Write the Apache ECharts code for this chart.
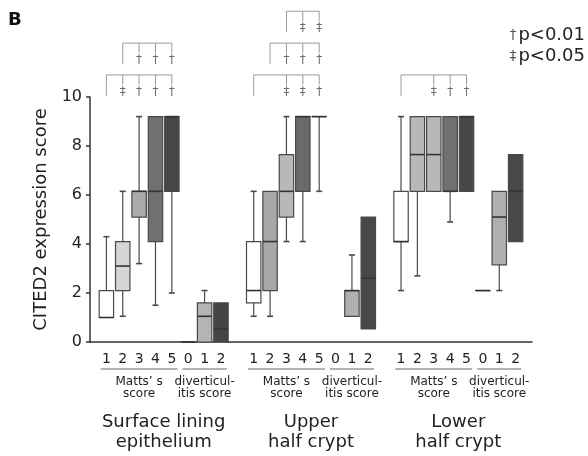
<!DOCTYPE html>
<html>
<head>
<meta charset="utf-8">
<script src="https://cdn.jsdelivr.net/npm/echarts@6/dist/echarts.min.js"></script>
<style>
  html, body { margin: 0; padding: 0; background: #fff; }
  #chart { width: 588px; height: 456px; }
</style>
</head>
<body>
<div id="chart"></div>
<script>
// x slots: blank, 8 boxes, blank, 8 boxes, blank, 8 boxes, blank
const categories = ['',
  '1', '2', '3', '4', '5', '0', '1', '2', '',
  '1', '2', '3', '4', '5', '0', '1', '2', '',
  '1', '2', '3', '4', '5', '0', '1', '2', '']
const groupStart = [1, 10, 19]
const groupTitles = ['Surface lining\nepithelium', 'Upper\nhalf crypt', 'Lower\nhalf crypt']
const subgroupNames = ['Matts\u2019 s\nscore', 'diverticul-\nitis score']

// [min, Q1, median, Q3, max] for Matts 1-5 then diverticulitis 0-2
const surfaceBoxes = [
  [1.0, 1.0, 1.0, 2.1, 4.3],
  [1.05, 2.1, 3.1, 4.1, 6.15],
  [3.2, 5.1, 6.15, 6.15, 9.2],
  [1.5, 4.1, 6.15, 9.2, 9.2],
  [2.0, 6.15, 9.2, 9.2, 9.2],
  [0, 0, 0, 0, 0],
  [0, 0, 1.05, 1.6, 2.1],
  [0, 0, 0.53, 1.6, 1.6]
]
const upperBoxes = [
  [1.05, 1.6, 2.1, 4.1, 6.15],
  [1.05, 2.1, 4.1, 6.15, 6.15],
  [4.1, 5.1, 6.15, 7.65, 9.2],
  [4.1, 6.15, 9.2, 9.2, 9.2],
  [6.15, 9.2, 9.2, 9.2, 9.2],
  null,
  [1.05, 1.05, 2.1, 2.1, 3.55],
  [0.53, 0.53, 2.6, 5.1, 5.1]
]
const lowerBoxes = [
  [2.1, 4.1, 4.1, 6.15, 9.2],
  [2.7, 6.15, 7.65, 9.2, 9.2],
  [6.15, 6.15, 7.65, 9.2, 9.2],
  [4.9, 6.15, 6.15, 9.2, 9.2],
  [6.15, 6.15, 9.2, 9.2, 9.2],
  [2.1, 2.1, 2.1, 2.1, 2.1],
  [2.1, 3.15, 5.1, 6.15, 6.15],
  [4.1, 4.1, 6.15, 7.65, 7.65]
]

// significance brackets: from one box to several others
const bracketBase = [1, 2, 10, 11, 12, 19]
const bracketTargets = [[2, 3, 4, 5], [3, 4, 5], [12, 13, 14], [12, 13, 14], [13, 14], [21, 22, 23]]
const bracketMarks = [['‡', '†', '†', '†'], ['†', '†', '†'], ['‡', '‡', '†'], ['†', '†', '†'], ['‡', '‡'], ['‡', '†', '†']]
const bracketLevel = [10.9, 12.2, 10.9, 12.2, 13.5, 10.9]

const fills = [
  ['#ffffff', '#d6d6d6', '#ababab', '#707070', '#464646', '#8a8a8a', '#b4b4b4', '#454545'],
  ['#ffffff', '#a8a8a8', '#b8b8b8', '#6a6a6a', '#ffffff', '#ffffff', '#b0b0b0', '#484848'],
  ['#ffffff', '#b8b8b8', '#b8b8b8', '#707070', '#474747', '#ffffff', '#b0b0b0', '#484848']
]

const FONT = 'DejaVu Sans'
const LINE = '#4a4a4a'

const boxData = []
;[surfaceBoxes, upperBoxes, lowerBoxes].forEach((boxes, g) => {
  boxes.forEach((b, i) => {
    if (!b) return
    boxData.push({ value: [groupStart[g] + i, ...b], itemStyle: { color: fills[g][i] } })
  })
})

function renderBox(params, api) {
  const x = api.value(0)
  const pts = [1, 2, 3, 4, 5].map((d) => api.coord([x, api.value(d)]))
  const cx = pts[0][0]
  const half = api.size([1, 0])[0] * 0.44
  const cap = 3
  const [pMin, pQ1, pMed, pQ3, pMax] = pts.map((p) => p[1])
  const ls = { stroke: LINE, lineWidth: 1.2 }
  const children = []
  if (pMin > pQ1 + 0.5) {
    children.push({ type: 'line', shape: { x1: cx, y1: pQ1, x2: cx, y2: pMin }, style: ls })
    children.push({ type: 'line', shape: { x1: cx - cap, y1: pMin, x2: cx + cap, y2: pMin }, style: { stroke: LINE, lineWidth: 1.6 } })
  }
  if (pMax < pQ3 - 0.5) {
    children.push({ type: 'line', shape: { x1: cx, y1: pQ3, x2: cx, y2: pMax }, style: ls })
    children.push({ type: 'line', shape: { x1: cx - cap, y1: pMax, x2: cx + cap, y2: pMax }, style: { stroke: LINE, lineWidth: 1.6 } })
  }
  children.push({
    type: 'rect',
    shape: { x: cx - half, y: pQ3, width: half * 2, height: Math.max(pQ1 - pQ3, 0.01) },
    style: { fill: api.visual('color'), stroke: LINE, lineWidth: 1.2 }
  })
  children.push({ type: 'line', shape: { x1: cx - half, y1: pMed, x2: cx + half, y2: pMed }, style: { stroke: '#333', lineWidth: 1.6 } })
  return { type: 'group', children }
}

function renderBracket(params, api) {
  const i = params.dataIndex
  const lvl = bracketLevel[i]
  const base = api.coord([bracketBase[i], lvl])
  const drop = api.coord([bracketBase[i], lvl - 0.85])
  const targets = bracketTargets[i]
  const last = api.coord([targets[targets.length - 1], lvl])
  const ls = { stroke: '#9a9a9a', lineWidth: 1 }
  const children = [
    { type: 'line', shape: { x1: base[0], y1: base[1], x2: last[0], y2: last[1] }, style: ls },
    { type: 'line', shape: { x1: base[0], y1: base[1], x2: drop[0], y2: drop[1] }, style: ls }
  ]
  targets.forEach((t, j) => {
    const top = api.coord([t, lvl])
    const bot = api.coord([t, lvl - 0.4])
    const mark = api.coord([t, lvl - 0.68])
    children.push({ type: 'line', shape: { x1: top[0], y1: top[1], x2: bot[0], y2: bot[1] }, style: ls })
    children.push({
      type: 'text',
      style: {
        x: mark[0], y: mark[1], text: bracketMarks[i][j], fill: '#6e6e6e',
        font: '12px ' + FONT, align: 'center', verticalAlign: 'middle'
      }
    })
  })
  return { type: 'group', children }
}

function renderLabels(params, api) {
  const s = groupStart[params.dataIndex]
  const w = api.size([1, 0])[0]
  const mA = api.coord([s, 0])
  const mB = api.coord([s + 4, 0])
  const dA = api.coord([s + 5, 0])
  const dB = api.coord([s + 7, 0])
  const y0 = mA[1]
  const uy = y0 + 27
  const ls = { stroke: '#666', lineWidth: 1 }
  const sub = { fill: '#222', font: '12px ' + FONT, align: 'center', verticalAlign: 'middle', lineHeight: 12 }
  return {
    type: 'group',
    children: [
      { type: 'line', shape: { x1: mA[0] - 0.35 * w, y1: uy, x2: mB[0] + 0.35 * w, y2: uy }, style: ls },
      { type: 'line', shape: { x1: dA[0] - 0.35 * w, y1: uy, x2: dB[0] + 0.35 * w, y2: uy }, style: ls },
      { type: 'text', style: Object.assign({ x: (mA[0] + mB[0]) / 2, y: y0 + 46, text: subgroupNames[0] }, sub) },
      { type: 'text', style: Object.assign({ x: (dA[0] + dB[0]) / 2, y: y0 + 46, text: subgroupNames[1] }, sub) },
      {
        type: 'text',
        style: {
          x: (mA[0] + dB[0]) / 2, y: y0 + 90, text: groupTitles[params.dataIndex], fill: '#222',
          font: '18px ' + FONT, align: 'center', verticalAlign: 'middle', lineHeight: 20
        }
      }
    ]
  }
}

const chart = echarts.init(document.getElementById('chart'), null, { renderer: 'canvas' })
chart.setOption({
  animation: false,
  backgroundColor: '#fff',
  textStyle: { fontFamily: FONT },
  grid: { left: 90, right: 56, top: 97, bottom: 114 },
  xAxis: {
    type: 'category',
    data: categories,
    boundaryGap: false,
    axisLine: { lineStyle: { color: '#333', width: 1.5 } },
    axisTick: { show: false },
    axisLabel: { interval: 0, margin: 10, fontSize: 14, color: '#222', fontFamily: FONT },
    splitLine: { show: false }
  },
  yAxis: {
    type: 'value',
    min: 0,
    max: 10,
    interval: 2,
    name: 'CITED2 expression score',
    nameLocation: 'middle',
    nameGap: 36,
    nameTextStyle: { fontSize: 18, color: '#222', fontFamily: FONT },
    axisLine: { show: true, lineStyle: { color: '#333', width: 1.5 } },
    axisTick: { show: true, length: 4, lineStyle: { color: '#333', width: 1.5 } },
    axisLabel: { fontSize: 16, color: '#222', margin: 8, fontFamily: FONT },
    splitLine: { show: false }
  },
  graphic: [
    { type: 'text', left: 8, top: 11, style: { text: 'B', font: 'bold 18px ' + FONT, fill: '#111' } },
    {
      type: 'text', right: 3, top: 25,
      style: {
        text: '{g|†}p<0.01\n{g|‡}p<0.05',
        font: '18px ' + FONT, fill: '#222', lineHeight: 21,
        rich: { g: { font: '14px ' + FONT, fill: '#555', padding: [0, 2, 0, 0], lineHeight: 21 } }
      }
    }
  ],
  series: [
    {
      type: 'custom',
      name: 'boxes',
      renderItem: renderBox,
      encode: { x: 0, y: [1, 2, 3, 4, 5] },
      data: boxData,
      z: 3
    },
    {
      type: 'custom',
      name: 'brackets',
      renderItem: renderBracket,
      encode: { x: 0, y: 1 },
      data: bracketBase.map((b, i) => [b, bracketLevel[i]]),
      clip: false,
      silent: true
    },
    {
      type: 'custom',
      name: 'labels',
      renderItem: renderLabels,
      encode: { x: 0, y: 1 },
      data: groupStart.map((s) => [s, 0]),
      clip: false,
      silent: true
    }
  ]
})
</script>
</body>
</html>
